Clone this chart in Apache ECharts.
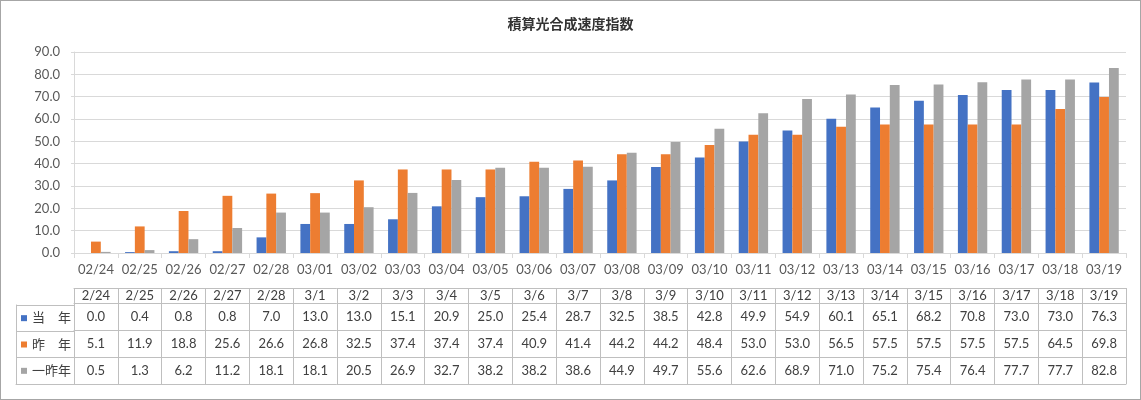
<!DOCTYPE html>
<html><head><meta charset="utf-8">
<script src="https://cdn.jsdelivr.net/npm/echarts@6/dist/echarts.min.js"></script>
<style>html,body{margin:0;padding:0;background:#fff}#c{width:1141px;height:400px;box-sizing:border-box;border:1px solid #a6a6a6}</style>
</head><body><div id="c"></div>
<script>
const categories = ['02/24','02/25','02/26','02/27','02/28','03/01','03/02','03/03','03/04','03/05','03/06','03/07','03/08','03/09','03/10','03/11','03/12','03/13','03/14','03/15','03/16','03/17','03/18','03/19'];
const tableHeaders = ['2/24','2/25','2/26','2/27','2/28','3/1','3/2','3/3','3/4','3/5','3/6','3/7','3/8','3/9','3/10','3/11','3/12','3/13','3/14','3/15','3/16','3/17','3/18','3/19'];
const seriesNames = ['当　年','昨　年','一昨年'];
const thisYear = [0.0,0.4,0.8,0.8,7.0,13.0,13.0,15.1,20.9,25.0,25.4,28.7,32.5,38.5,42.8,49.9,54.9,60.1,65.1,68.2,70.8,73.0,73.0,76.3];
const lastYear = [5.1,11.9,18.8,25.6,26.6,26.8,32.5,37.4,37.4,37.4,40.9,41.4,44.2,44.2,48.4,53.0,53.0,56.5,57.5,57.5,57.5,57.5,64.5,69.8];
const twoYearsAgo = [0.5,1.3,6.2,11.2,18.1,18.1,20.5,26.9,32.7,38.2,38.2,38.6,44.9,49.7,55.6,62.6,68.9,71.0,75.2,75.4,76.4,77.7,77.7,82.8];
const yTicks = {min:0, max:90, interval:10};

const colors = ['#4472C4','#ED7D31','#A5A5A5'];
const seriesData = [thisYear, lastYear, twoYearsAgo];
const FONT = "Lato, 'Noto Sans CJK JP', sans-serif";
const lineC = '#d9d9d9';
const tblC = '#bfbfbf';
const textC = '#404040';

const chart = echarts.init(document.getElementById('c'));
const rowOffsets = [50, 77, 104];
const rowH = 27;

const xAxes = [];
// main category axis
xAxes.push({type:'category', gridIndex:0, data:categories, position:'bottom',
  axisLine:{lineStyle:{color:lineC}}, axisTick:{show:true, length:5, interval:0, lineStyle:{color:lineC}},
  axisLabel:{interval:0, margin:10, fontSize:13, color:'#595959', fontFamily:FONT}});
// table header row
xAxes.push({type:'category', gridIndex:0, data:tableHeaders, position:'bottom', offset:35,
  axisLine:{lineStyle:{color:tblC}}, axisTick:{show:true, length:15, interval:0, lineStyle:{color:tblC}},
  axisLabel:{interval:0, margin:1, fontSize:13, color:textC, fontFamily:FONT}});
// table value rows
seriesData.forEach((arr, i) => {
  xAxes.push({type:'category', gridIndex:0, data:arr.map(v => v.toFixed(1)), position:'bottom', offset:rowOffsets[i],
    axisLine:{lineStyle:{color:tblC}}, axisTick:{show:true, length:rowH, interval:0, lineStyle:{color:tblC}},
    axisLabel:{interval:0, margin:7, fontSize:13, color:textC, fontFamily:FONT}});
});
// table bottom border
xAxes.push({type:'category', gridIndex:0, data:categories, position:'bottom', offset:131,
  axisLine:{lineStyle:{color:tblC}}, axisTick:{show:false}, axisLabel:{show:false}});
// label column x axis (bottom border only)
xAxes.push({type:'value', gridIndex:1, min:0, max:1, position:'bottom',
  axisLine:{show:true, lineStyle:{color:tblC}}, axisTick:{show:false}, axisLabel:{show:false}, splitLine:{show:false}});

const richMarks = {};
seriesNames.forEach((nm, i) => { richMarks['m' + i] = {width:6, height:6, backgroundColor:colors[i]}; });
richMarks.t = {padding:[0,0,0,5], fontSize:13, color:textC, fontFamily:FONT};

chart.setOption({
  animation:false,
  color:colors,
  textStyle:{fontFamily:FONT},
  title:{text:'積算光合成速度指数', left:'center', top:11,
    textStyle:{fontSize:14, fontWeight:'bold', color:'#333', fontFamily:"'Noto Sans CJK JP', sans-serif"}},
  grid:[{left:73, right:14, top:51, bottom:146}, {left:15, width:58, top:304, bottom:15}],
  xAxis:xAxes,
  yAxis:[
    {type:'value', gridIndex:0, min:yTicks.min, max:yTicks.max, interval:yTicks.interval,
      axisLine:{show:true, lineStyle:{color:lineC}}, axisTick:{show:true, length:3, lineStyle:{color:lineC}},
      splitLine:{lineStyle:{color:lineC}},
      axisLabel:{margin:14, fontSize:13, color:'#595959', fontFamily:FONT, formatter:v => v.toFixed(1)}},
    {type:'category', gridIndex:1, data:seriesNames, inverse:true, position:'left',
      axisLine:{show:true, lineStyle:{color:tblC}}, axisTick:{show:false},
      splitLine:{show:true, interval:0, lineStyle:{color:tblC}},
      axisLabel:{inside:true, interval:0, margin:5, align:'left', fontSize:13, color:textC, fontFamily:FONT,
        formatter: (v, idx) => '{m' + idx + '|}{t|' + v + '}', rich:richMarks}}
  ],
  series: seriesData.map((arr, i) => ({
    type:'bar', name:seriesNames[i], data:arr, xAxisIndex:0, yAxisIndex:0,
    barGap:'0%', barCategoryGap:'33%', itemStyle:{color:colors[i]}
  }))
});
</script></body></html>
